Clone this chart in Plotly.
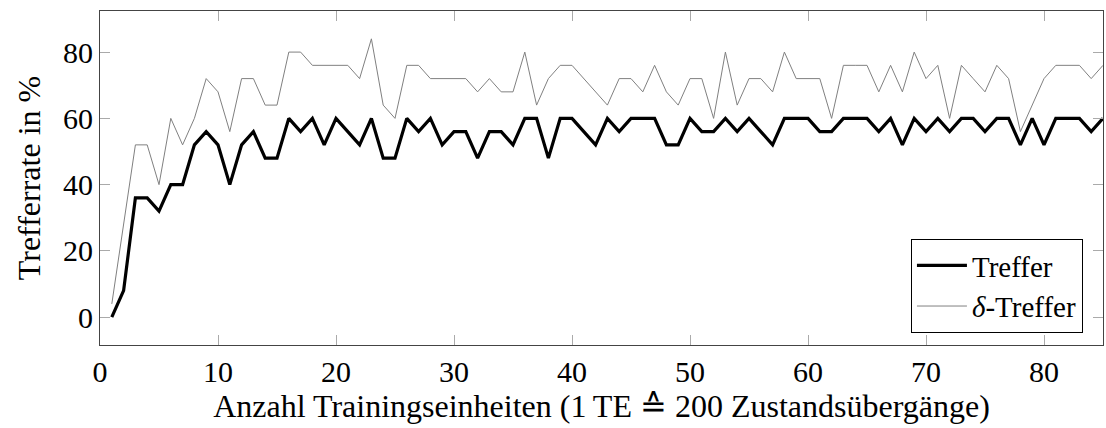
import plotly.graph_objects as go

x_vals = list(range(1, 86))

treffer = [0, 8, 36, 36, 32, 40, 40, 52, 56, 52,
           40, 52, 56, 48, 48, 60, 56, 60, 52, 60,
           56, 52, 60, 48, 48, 60, 56, 60, 52, 56,
           56, 48, 56, 56, 52, 60, 60, 48, 60, 60,
           56, 52, 60, 56, 60, 60, 60, 52, 52, 60,
           56, 56, 60, 56, 60, 56, 52, 60, 60, 60,
           56, 56, 60, 60, 60, 56, 60, 52, 60, 56,
           60, 56, 60, 60, 56, 60, 60, 52, 60, 52,
           60, 60, 60, 56, 60]

delta_treffer = [4, 28, 52, 52, 40, 60, 52, 60, 72, 68,
                 56, 72, 72, 64, 64, 80, 80, 76, 76, 76,
                 76, 72, 84, 64, 60, 76, 76, 72, 72, 72,
                 72, 68, 72, 68, 68, 80, 64, 72, 76, 76,
                 72, 68, 64, 72, 72, 68, 76, 68, 64, 72,
                 72, 60, 80, 64, 72, 72, 68, 80, 72, 72,
                 72, 60, 76, 76, 76, 68, 76, 68, 80, 72,
                 76, 60, 76, 72, 68, 76, 72, 56, 64, 72,
                 76, 76, 76, 72, 76]

x_ticks = [0, 10, 20, 30, 40, 50, 60, 70, 80]
y_ticks = [0, 20, 40, 60, 80]

x_title = "Anzahl Trainingseinheiten (1\u2009TE \u2259 200 Zustandsübergänge)"
y_title = "Trefferrate in %"

FONT = "Liberation Serif, DejaVu Serif, serif"

fig = go.Figure()
fig.add_trace(go.Scatter(x=x_vals, y=treffer, mode="lines", name="Treffer",
                         line=dict(color="black", width=3.2)))
fig.add_trace(go.Scatter(x=x_vals, y=delta_treffer, mode="lines", name="<i>δ</i>-Treffer",
                         line=dict(color="#808080", width=1)))

axis_common = dict(
    showgrid=False, zeroline=False, showline=True, linecolor="#444444", linewidth=1.2,
    mirror="ticks", ticks="inside", ticklen=10, tickcolor="#aaaaaa", tickwidth=1,
    tickfont=dict(family=FONT, size=30, color="black"), automargin=False,
)

fig.update_layout(
    width=1106, height=428,
    margin=dict(l=100, r=3, t=11, b=83, autoexpand=False),
    paper_bgcolor="white", plot_bgcolor="white",
    font=dict(family=FONT, size=30, color="black"),
    xaxis=dict(range=[0, 85], tickvals=x_ticks,
               title=dict(text=x_title, font=dict(family=FONT, size=32), standoff=6),
               **axis_common),
    yaxis=dict(range=[-8.4, 92.4], tickvals=y_ticks,
               title=dict(text=y_title, font=dict(family=FONT, size=32), standoff=12),
               **axis_common),
    legend=dict(x=0.98, y=0.036, xanchor="right", yanchor="bottom",
                bgcolor="white", bordercolor="black", borderwidth=1,
                font=dict(family=FONT, size=29), tracegroupgap=0,
                itemwidth=50),
    showlegend=True,
)

fig.write_html("out.html",
               config={"displayModeBar": False},
               post_script="document.body.style.margin='0px';document.body.style.overflow='hidden';")
